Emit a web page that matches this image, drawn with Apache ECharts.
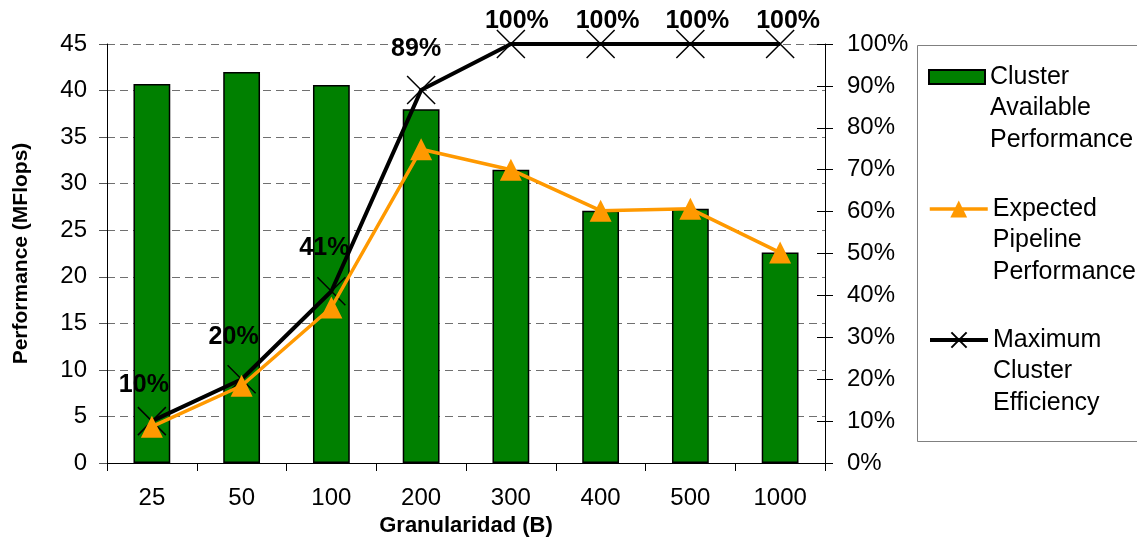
<!DOCTYPE html>
<html>
<head>
<meta charset="utf-8">
<script src="https://cdn.jsdelivr.net/npm/echarts@6/dist/echarts.min.js"></script>
<style>
  html, body { margin: 0; padding: 0; background: #fff; }
  #chart { width: 1137px; height: 537px; }
</style>
</head>
<body>
<div id="chart"></div>
<script>
// Granularity categories (block size, bytes)
const categories = ['25', '50', '100', '200', '300', '400', '500', '1000'];
// Cluster available performance, MFlops (bars, left axis)
const clusterPerf = [40.7, 42.0, 40.6, 38.0, 31.5, 27.1, 27.3, 22.6];
// Expected pipeline performance, MFlops (orange line, left axis)
const pipelinePerf = [3.9, 8.3, 16.7, 33.7, 31.5, 27.1, 27.3, 22.6];
// Maximum cluster efficiency, percent (black line, right axis)
const clusterEff = [10, 20, 41, 89, 100, 100, 100, 100];
// Axis ranges: [min, max, step]
const perfAxis = [0, 45, 5];
const effAxis = [0, 100, 10];

// Label placement for the efficiency values (offset from the point)
const effLabelOffsets = [[-8, -36], [-8, -42], [-7, -43], [-5, -41], [6, -23], [7, -23], [7, -23], [8, -23]];

const FONT = "'Liberation Sans', Arial, sans-serif";
const names = ['Cluster Available Performance', 'Expected Pipeline Performance', 'Maximum Cluster Efficiency'];
// Two leading empty lines keep the legend marker level with the first text line
const legendText = {
  [names[0]]: '\n\nCluster\nAvailable\nPerformance',
  [names[1]]: '\n\nExpected\nPipeline\nPerformance',
  [names[2]]: '\n\nMaximum\nCluster\nEfficiency'
};
const crossPath = 'path://M0,0L10,10M10,0L0,10';

function legendFor(item, top, w, h) {
  return {
    data: [item],
    orient: 'vertical',
    left: 928,
    top: top,
    padding: 0,
    itemWidth: w,
    itemHeight: h,
    selectedMode: false,
    formatter: n => legendText[n],
    textStyle: {
      fontFamily: FONT,
      fontSize: 25,
      color: '#000',
      lineHeight: 31.5
    }
  };
}

const chart = echarts.init(document.getElementById('chart'), null, { renderer: 'canvas' });

chart.setOption({
  backgroundColor: '#fff',
  animation: false,
  textStyle: { fontFamily: FONT },
  grid: { left: 107, right: 312, top: 44, bottom: 74, containLabel: false, outerBoundsMode: 'none' },
  legend: [
    legendFor({ name: names[0], icon: 'rect' }, -1.75, 56, 14),
    legendFor({ name: names[1], lineStyle: { width: 3.5 } }, 130.25, 58, 21),
    legendFor({ name: names[2], lineStyle: { width: 4 } }, 261.25, 58, 19)
  ],
  graphic: [{
    type: 'rect',
    left: 915,
    top: 43,
    shape: { width: 240, height: 396 },
    style: { fill: 'none', stroke: '#808080', lineWidth: 1 },
    z: 0
  }],
  xAxis: {
    type: 'category',
    data: categories,
    boundaryGap: true,
    axisLine: { lineStyle: { color: '#000', width: 1 } },
    axisTick: { show: true, length: 8, lineStyle: { color: '#000' } },
    axisLabel: { fontFamily: FONT, fontSize: 24, color: '#000', margin: 23 },
    name: 'Granularidad (B)',
    nameLocation: 'middle',
    nameGap: 52,
    nameTextStyle: { fontFamily: FONT, fontSize: 22, fontWeight: 'bold', color: '#000' }
  },
  yAxis: [
    {
      type: 'value',
      position: 'left',
      min: perfAxis[0], max: perfAxis[1], interval: perfAxis[2],
      axisLine: { show: true, lineStyle: { color: '#000', width: 1 } },
      axisTick: { show: true, length: 8, lineStyle: { color: '#555' } },
      axisLabel: { fontFamily: FONT, fontSize: 24, color: '#000', margin: 20 },
      splitLine: { show: true, lineStyle: { color: '#707070', type: [8, 5], width: 1 } },
      name: 'Performance (MFlops)',
      nameLocation: 'middle',
      nameGap: 75,
      nameTextStyle: { fontFamily: FONT, fontSize: 21, fontWeight: 'bold', color: '#000' }
    },
    {
      type: 'value',
      position: 'right',
      min: effAxis[0], max: effAxis[1], interval: effAxis[2],
      axisLine: { show: true, lineStyle: { color: '#000', width: 1 } },
      axisTick: { show: true, length: 8, lineStyle: { color: '#000' } },
      axisLabel: { fontFamily: FONT, fontSize: 24, color: '#000', margin: 22, formatter: '{value}%' },
      splitLine: { show: false }
    },
    {
      // inner half of the crossing ticks on the right axis
      type: 'value',
      position: 'right',
      min: effAxis[0], max: effAxis[1], interval: effAxis[2],
      axisLine: { show: false },
      axisTick: { show: true, inside: true, length: 8, lineStyle: { color: '#000' } },
      axisLabel: { show: false },
      splitLine: { show: false }
    }
  ],
  series: [
    {
      name: names[0],
      type: 'bar',
      data: clusterPerf,
      yAxisIndex: 0,
      barWidth: '41%',
      itemStyle: { color: '#008000', borderColor: '#000', borderWidth: 1.5 },
      z: 2
    },
    {
      name: names[2],
      type: 'line',
      yAxisIndex: 1,
      data: clusterEff.map((v, i) => ({
        value: v,
        label: { offset: effLabelOffsets[i] }
      })),
      symbol: crossPath,
      symbolSize: 28,
      itemStyle: { color: '#000', borderColor: '#000', borderWidth: 1.5 },
      lineStyle: { color: '#000', width: 4 },
      label: {
        show: true,
        position: 'inside',
        formatter: '{c}%',
        fontFamily: FONT,
        fontSize: 25,
        fontWeight: 'bold',
        color: '#000'
      },
      z: 3
    },
    {
      name: names[1],
      type: 'line',
      yAxisIndex: 0,
      data: pipelinePerf,
      symbol: 'triangle',
      symbolSize: 22,
      itemStyle: { color: '#FF9900' },
      lineStyle: { color: '#FF9900', width: 3.5 },
      z: 4
    }
  ]
});
</script>
</body>
</html>
